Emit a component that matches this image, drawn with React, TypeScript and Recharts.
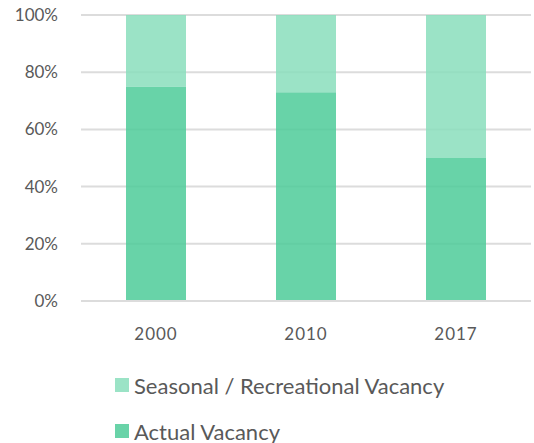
import React from 'react';
import { BarChart, Bar, XAxis, YAxis, CartesianGrid, Legend } from 'recharts';

const years = ['2000', '2010', '2017'];
const actualVacancy = [75, 73, 50];
const seasonalVacancy = [25, 27, 50];
const yTicks = [0, 20, 40, 60, 80, 100];

const data = years.map((year, i) => ({
  year,
  actual: actualVacancy[i],
  seasonal: seasonalVacancy[i],
}));

const font = 'Lato, "Open Sans", sans-serif';
const textColor = '#595959';

const legendItems = [
  { label: 'Seasonal / Recreational Vacancy', color: '#9be3c6' },
  { label: 'Actual Vacancy', color: '#69d3a8' },
];

function VacancyLegend() {
  return (
    <div style={{ paddingTop: 19, fontFamily: font, color: textColor, fontSize: 22 }}>
      {legendItems.map((item) => (
        <div key={item.label} style={{ display: 'flex', alignItems: 'center', height: 46 }}>
          <span style={{ width: 14, height: 14, background: item.color, marginRight: 5, display: 'inline-block', flexShrink: 0 }} />
          <span>{item.label}</span>
        </div>
      ))}
    </div>
  );
}

export default function App() {
  return (
    <div style={{ position: 'absolute', left: 0, top: 0, background: '#fff' }}>
      <BarChart
        width={534}
        height={443}
        data={data}
        margin={{ top: 15, right: 3, left: 0, bottom: 0 }}
        barSize={60}
      >
        <CartesianGrid vertical={false} stroke="#dcdcdc" strokeWidth={2} />
        <XAxis
          dataKey="year"
          height={42}
          axisLine={{ stroke: '#dcdcdc', strokeWidth: 2 }}
          tickLine={false}
          tickSize={0}
          tickMargin={27}
          tick={{ fill: textColor, fontSize: 17, fontFamily: font, letterSpacing: 1 }}
        />
        <YAxis
          width={81}
          domain={[0, 100]}
          ticks={yTicks}
          tickFormatter={(v) => `${v}%`}
          axisLine={false}
          tickLine={false}
          tickSize={0}
          tickMargin={23}
          tick={{ fill: textColor, fontSize: 17, fontFamily: font }}
        />
        <Legend
          verticalAlign="bottom"
          align="left"
          height={100}
          wrapperStyle={{ left: 115, width: 419 }}
          content={() => <VacancyLegend />}
        />
        <Bar dataKey="actual" stackId="v" fill="#4ecb99" fillOpacity={0.85} isAnimationActive={false} />
        <Bar dataKey="seasonal" stackId="v" fill="#89debc" fillOpacity={0.85} isAnimationActive={false} />
      </BarChart>
    </div>
  );
}
